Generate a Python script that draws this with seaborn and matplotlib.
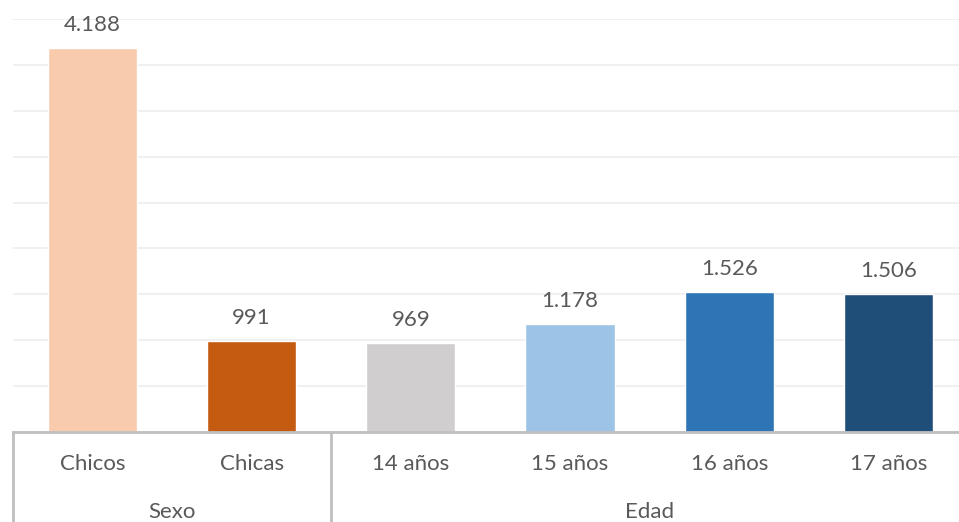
import matplotlib
matplotlib.use("Agg")
import matplotlib.pyplot as plt
import seaborn as sns
import pandas as pd

# datos
categorias = ["Chicos", "Chicas", "14 años", "15 años", "16 años", "17 años"]
valores = [4188, 991, 969, 1178, 1526, 1506]
grupos = ["Sexo", "Edad"]
colores = ["#F7CBAC", "#C55A11", "#D0CECE", "#9DC3E6", "#2E75B6", "#1F4E79"]

sns.set_theme(style="white")
plt.rcParams["font.family"] = ["Lato", "DejaVu Sans"]
gris_texto = "#595959"

df = pd.DataFrame({"categoria": categorias, "valor": valores})

fig = plt.figure(figsize=(9.59, 5.22), dpi=100)
ax = fig.add_axes([12.9 / 959, 1 - 431.7 / 522, (968 - 12.9) / 959, (431.7 - 19.3) / 522])

sns.barplot(data=df, x="categoria", y="valor", hue="categoria", palette=colores,
            legend=False, width=0.56, saturation=1, ax=ax)

ax.set_xlim(-0.5, len(categorias) - 0.5)
ax.set_ylim(0, 4500)
ax.set_yticks(range(0, 4501, 500))
ax.yaxis.grid(True, color="#EFEFEF", linewidth=1.3)
ax.set_axisbelow(True)
ax.set_yticklabels([])
ax.tick_params(axis="y", length=0)
ax.tick_params(axis="x", length=0, pad=16, labelsize=16, labelcolor=gris_texto)
ax.set_xlabel("")
ax.set_ylabel("")
for lado in ["left", "right", "top"]:
    ax.spines[lado].set_visible(False)
ax.spines["bottom"].set_color("#BFBFBF")
ax.spines["bottom"].set_linewidth(2)

for cont in ax.containers:
    ax.bar_label(cont, labels=[f"{v:,.0f}".replace(",", ".") for v in cont.datavalues],
                 padding=9, fontsize=16, color=gris_texto)

# separadores de grupo bajo el eje
for xs in [-0.5, 1.5]:
    ax.plot([xs, xs], [0, -0.3], transform=ax.get_xaxis_transform(),
            color="#BFBFBF", linewidth=2, clip_on=False)

ax.annotate(grupos[0], xy=(0.5, 0), xycoords=("data", "axes fraction"),
            xytext=(0, -58), textcoords="offset points", ha="center", va="center",
            fontsize=16, color=gris_texto)
ax.annotate(grupos[1], xy=(3.5, 0), xycoords=("data", "axes fraction"),
            xytext=(0, -58), textcoords="offset points", ha="center", va="center",
            fontsize=16, color=gris_texto)

fig.savefig("out.png", dpi=100)
